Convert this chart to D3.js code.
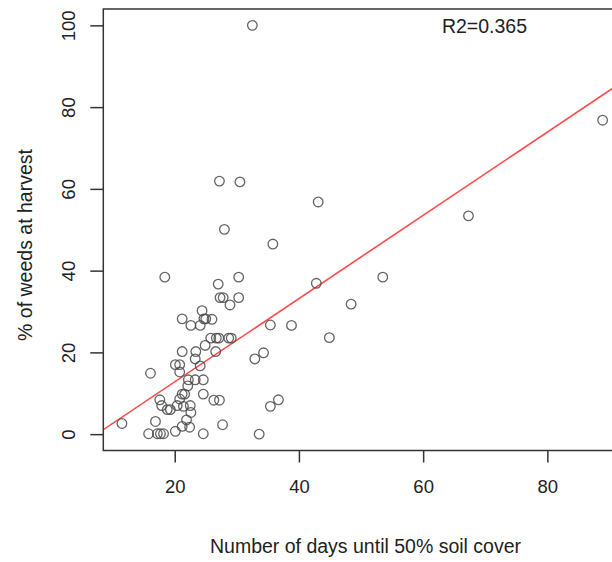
<!DOCTYPE html>
<html>
<head>
<meta charset="utf-8">
<script src="https://cdn.jsdelivr.net/npm/d3@7/dist/d3.min.js"></script>
<style>
  html, body { margin: 0; padding: 0; background: #fff; }
  svg { display: block; }
  text { font-family: "Liberation Sans", Arial, sans-serif; fill: #222; }
</style>
</head>
<body>
<svg id="chart" width="612" height="562"></svg>
<script>
// ---- data ----
const daysToCover = [
  32.5, 88.9, 67.3, 43.1, 27.2, 30.5, 28.0, 35.8, 18.4, 27.0, 30.3,
  42.8, 53.5, 48.4, 38.8, 44.9, 32.9, 34.3, 26.3, 27.2, 35.4, 36.7,
  27.7, 33.6, 35.4, 26.0, 27.3, 27.8, 28.9, 30.3,
  21.2, 22.6, 24.1, 24.7, 25.0, 24.4, 25.8, 26.7, 27.1, 28.7, 29.1,
  21.2, 23.4, 26.6, 24.9, 23.3, 20.1, 20.8, 24.1, 16.1, 22.2, 23.3,
  24.6, 20.8, 22.1, 21.2, 21.6, 24.6, 17.6, 20.8, 17.9, 18.8, 19.3,
  20.4, 21.4, 22.5, 22.6, 16.9, 11.5, 21.9, 20.1, 21.2, 22.4, 15.8,
  17.2, 17.7, 18.2, 24.6
];
const weedsPct = [
  100.0, 76.8, 53.4, 56.8, 61.9, 61.7, 50.1, 46.5, 38.4, 36.7, 38.4,
  36.9, 38.4, 31.8, 26.6, 23.6, 18.4, 19.9, 8.3, 8.3, 6.8, 8.4,
  2.3, 0.0, 26.7, 28.1, 33.4, 33.4, 31.6, 33.4,
  28.2, 26.6, 26.6, 28.2, 28.2, 30.2, 23.5, 23.5, 23.5, 23.5, 23.5,
  20.2, 20.2, 20.2, 21.7, 18.4, 17.0, 17.0, 16.7, 14.9, 13.3, 13.3,
  13.3, 15.2, 11.8, 9.8, 9.8, 9.8, 8.4, 8.6, 7.0, 6.0, 6.0,
  7.0, 6.8, 7.0, 5.3, 3.1, 2.6, 3.5, 0.7, 1.9, 1.7, 0.1,
  0.1, 0.1, 0.1, 0.1
];
const xTicks = [20, 40, 60, 80];
const yTicks = [0, 20, 40, 60, 80, 100];
const xLim = [8.5, 92.6];
const yLim = [-4, 104];
const fitIntercept = -7.56;
const fitSlope = 1.018;
const r2Label = "R2=0.365";
const xTitle = "Number of days until 50% soil cover";
const yTitle = "% of weeds at harvest";

// ---- layout ----
const svg = d3.select("#chart");
const plot = { left: 103.3, top: 9, right: 625.6, bottom: 450.5 };

const x = d3.scaleLinear().domain(xLim).range([plot.left, plot.right]);
const y = d3.scaleLinear().domain(yLim).range([plot.bottom, plot.top]);

// clip
svg.append("defs").append("clipPath").attr("id", "clip")
  .append("rect")
  .attr("x", plot.left).attr("y", plot.top)
  .attr("width", plot.right - plot.left).attr("height", plot.bottom - plot.top);

// regression line
const lineData = xLim.map(v => [v, fitIntercept + fitSlope * v]);
svg.append("path")
  .attr("clip-path", "url(#clip)")
  .attr("d", d3.line().x(d => x(d[0])).y(d => y(d[1]))(lineData))
  .attr("fill", "none")
  .attr("stroke", "#ff4a4a")
  .attr("stroke-width", 1.6);

// points
const pts = daysToCover.map((d, i) => ({ x: d, y: weedsPct[i] }));
svg.append("g")
  .selectAll("circle")
  .data(pts)
  .join("circle")
  .attr("cx", d => x(d.x))
  .attr("cy", d => y(d.y))
  .attr("r", 4.8)
  .attr("fill", "none")
  .attr("stroke", "#4a4a4a")
  .attr("stroke-opacity", 0.85)
  .attr("stroke-width", 1.3);

// box
svg.append("rect")
  .attr("x", plot.left).attr("y", plot.top)
  .attr("width", plot.right - plot.left).attr("height", plot.bottom - plot.top)
  .attr("fill", "none").attr("stroke", "#333").attr("stroke-width", 1.5);

// x axis
const xAxis = d3.axisBottom(x).tickValues(xTicks).tickSize(12).tickPadding(17)
  .tickFormat(d3.format("d"));
const gx = svg.append("g").attr("transform", `translate(0,${plot.bottom})`).call(xAxis);
gx.select(".domain").remove();
gx.selectAll(".tick line").attr("stroke", "#333").attr("stroke-width", 1.5);
gx.selectAll(".tick text").attr("font-size", 18.5).attr("fill", "#222")
  .attr("font-family", "Liberation Sans, Arial, sans-serif");

// y axis
const yAxis = d3.axisLeft(y).tickValues(yTicks).tickSize(13).tickFormat(d3.format("d"));
const gy = svg.append("g").attr("transform", `translate(${plot.left},0)`).call(yAxis);
gy.select(".domain").remove();
gy.selectAll(".tick line").attr("stroke", "#333").attr("stroke-width", 1.5);
gy.selectAll(".tick text")
  .attr("font-size", 18.5).attr("fill", "#222")
  .attr("font-family", "Liberation Sans, Arial, sans-serif")
  .attr("x", null).attr("dy", null)
  .attr("text-anchor", "middle")
  .attr("transform", "translate(-28,0) rotate(-90)");

// titles
svg.append("text")
  .attr("x", 365.5).attr("y", 553)
  .attr("text-anchor", "middle")
  .attr("font-size", 19.5)
  .text(xTitle);

svg.append("text")
  .attr("transform", "translate(32,245) rotate(-90)")
  .attr("text-anchor", "middle")
  .attr("font-size", 19.5)
  .text(yTitle);

// R2 annotation
svg.append("text")
  .attr("x", 484.5).attr("y", 32.5)
  .attr("text-anchor", "middle")
  .attr("font-size", 19.5)
  .text(r2Label);
</script>
</body>
</html>
